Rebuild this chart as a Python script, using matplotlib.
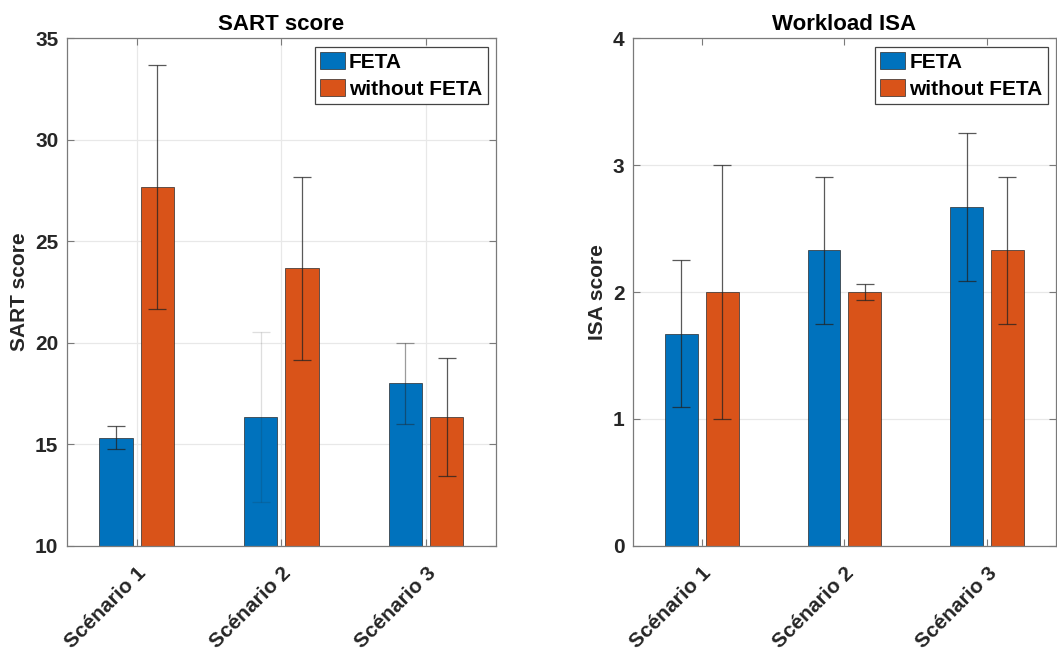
import numpy as np
import matplotlib.pyplot as plt

plt.rcParams['font.family'] = ['Liberation Sans', 'DejaVu Sans']
plt.rcParams['font.weight'] = 'bold'

scenarios = ['Scénario 1', 'Scénario 2', 'Scénario 3']
series = ['FETA', 'without FETA']

# SART score (mean, std)
sart_feta = [15.33, 16.33, 18.0]
sart_feta_err = [0.58, 4.2, 2.0]
sart_nofeta = [27.67, 23.67, 16.33]
sart_nofeta_err = [6.03, 4.52, 2.9]

# workload ISA (mean, std)
isa_feta = [1.67, 2.33, 2.67]
isa_feta_err = [0.58, 0.58, 0.58]
isa_nofeta = [2.0, 2.0, 2.33]
isa_nofeta_err = [1.0, 0.065, 0.58]

blue = '#0072BD'
orange = '#D95319'
spine = '#7a7a7a'

fig = plt.figure(figsize=(10.57, 6.53), dpi=100)
ax1 = fig.add_axes([0.0631, 0.1643, 0.406, 0.777])
ax2 = fig.add_axes([0.5986, 0.1643, 0.4005, 0.777])

x = np.arange(1, len(scenarios) + 1)
off = 0.143
w = 0.23


def errbars(ax, xs, ys, errs, alphas):
    for xi, yi, ei, al in zip(xs, ys, errs, alphas):
        ax.errorbar(xi, yi, yerr=ei, fmt='none', ecolor='#222222', elinewidth=0.9,
                    capsize=6.5, capthick=0.9, alpha=al, zorder=3)


def draw(ax, a, a_err, b, b_err, title, ylabel, ylim, yticks, xgrid, a_alpha):
    ax.bar(x - off, a, w, color=blue, edgecolor='#2b2b2b', linewidth=0.5, label=series[0], zorder=2)
    ax.bar(x + off, b, w, color=orange, edgecolor='#2b2b2b', linewidth=0.5, label=series[1], zorder=2)
    errbars(ax, x - off, a, a_err, a_alpha)
    errbars(ax, x + off, b, b_err, [0.75] * len(b))
    ax.set_xlim(0.516, 3.484)
    ax.set_ylim(*ylim)
    ax.set_yticks(yticks)
    ax.set_xticks(x)
    ax.set_xticklabels(scenarios, rotation=45, ha='right', rotation_mode='anchor')
    ax.tick_params(axis='both', direction='in', labelsize=15, length=5, color=spine,
                   labelcolor='#262626', top=True, right=True, pad=6)
    ax.tick_params(axis='x', pad=13)
    ax.grid(axis='y', color='#e8e8e8', linewidth=0.9, zorder=0)
    if xgrid:
        ax.grid(axis='x', color='#e8e8e8', linewidth=0.9, zorder=0)
    ax.set_axisbelow(True)
    for s in ax.spines.values():
        s.set_color(spine)
        s.set_linewidth(0.9)
    ax.set_title(title, fontsize=16, fontweight='bold', pad=6)
    ax.set_ylabel(ylabel, fontsize=15, fontweight='bold', color='#262626', labelpad=4)
    leg = ax.legend(loc='upper right', fontsize=15, frameon=True, fancybox=False,
                    framealpha=1, edgecolor='#444444', borderaxespad=0.4,
                    handlelength=1.2, handleheight=0.9, handletextpad=0.2,
                    labelspacing=0.35, borderpad=0.25)
    leg.get_frame().set_linewidth(0.9)


draw(ax1, sart_feta, sart_feta_err, sart_nofeta, sart_nofeta_err,
     'SART score', 'SART score', (10, 35), [10, 15, 20, 25, 30, 35], True,
     [0.75, 0.15, 0.45])
draw(ax2, isa_feta, isa_feta_err, isa_nofeta, isa_nofeta_err,
     'Workload ISA', 'ISA score', (0, 4), [0, 1, 2, 3, 4], False,
     [0.75, 0.75, 0.75])

fig.savefig('out.png', dpi=100)
